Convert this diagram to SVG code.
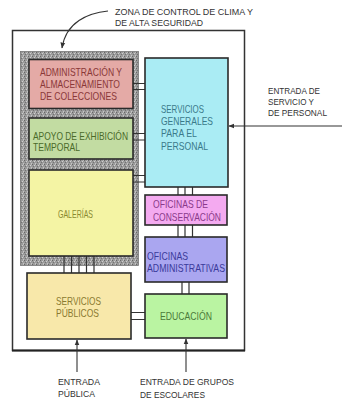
<svg xmlns="http://www.w3.org/2000/svg" width="342" height="402" viewBox="0 0 342 402">
<defs>
<pattern id="stip" width="4" height="4" patternUnits="userSpaceOnUse">
<rect width="4" height="4" fill="#9a9a9a"/>
<rect x="0" y="0" width="1" height="1" fill="#666"/>
<rect x="2" y="1" width="1" height="1" fill="#d0d0d0"/>
<rect x="1" y="2" width="1" height="1" fill="#737373"/>
<rect x="3" y="3" width="1" height="1" fill="#c4c4c4"/>
<rect x="3" y="0" width="1" height="1" fill="#b8b8b8"/>
</pattern>
<marker id="ah" viewBox="0 0 10 10" refX="9" refY="5" markerWidth="6" markerHeight="6" orient="auto" markerUnits="userSpaceOnUse">
<path d="M0,1 L10,5 L0,9 Z" fill="#333"/>
</marker>
</defs>
<style>
text{font-family:"Liberation Sans",Arial,sans-serif;font-size:11px}
.lbl{fill:#333;font-size:9.8px}
.box{stroke:#2a2a2a;stroke-width:1.6}
.cn{stroke:#333;stroke-width:1.2;fill:none}
.ar{stroke:#333;stroke-width:1.1;fill:none;marker-end:url(#ah)}
</style>
<rect width="342" height="402" fill="#fff"/>
<g id="frame">
<rect x="12.5" y="30.5" width="232" height="320" fill="#fff" stroke="#333" stroke-width="1.5"/>
<line x1="12" y1="350.5" x2="245" y2="350.5" stroke="#222" stroke-width="2"/>
</g>
<g id="climate-zone">
<rect x="20.5" y="51.5" width="118" height="214" fill="url(#stip)" stroke="#777" stroke-width="0.8"/>
</g>
<g id="connectors">
<path class="cn" d="M133,83.5H145M133,89.5H145"/>
<path class="cn" d="M133,133.5H145M133,140H145"/>
<path class="cn" d="M133,175.5H145M133,182H145"/>
<path class="cn" d="M178,187V195M185,187V195M192.5,187V195"/>
<path class="cn" d="M178,225V237M185,225V237M192.5,225V237"/>
<path class="cn" d="M182,282V294M189,282V294"/>
<path class="cn" d="M64,255V273M71.5,255V273M79,255V273M86.5,255V273M94,255V273"/>
<path class="cn" d="M131,312.5H145M131,319.5H145"/>
<line class="ar" x1="342" y1="126" x2="229" y2="126"/>
<line class="ar" x1="77" y1="372" x2="77" y2="340"/>
<line class="ar" x1="186" y1="372" x2="186" y2="339"/>
<path class="ar" d="M108,11 C88,13 66,22 62,48"/>
</g>
<g id="admin">
<rect class="box" x="29" y="59.5" width="104" height="49" fill="#e4aaa6"/>
<text x="40" y="76" fill="#8a3838" textLength="82" lengthAdjust="spacingAndGlyphs">ADMINISTRACIÓN Y</text>
<text x="40" y="88" fill="#8a3838" textLength="80" lengthAdjust="spacingAndGlyphs">ALMACENAMIENTO</text>
<text x="40" y="100" fill="#8a3838" textLength="77" lengthAdjust="spacingAndGlyphs">DE COLECCIONES</text>
</g>
<g id="apoyo">
<rect class="box" x="29" y="118" width="104" height="41" fill="#c2dca2"/>
<text x="33" y="140" fill="#4a6a2a" textLength="95" lengthAdjust="spacingAndGlyphs">APOYO DE EXHIBICIÓN</text>
<text x="33" y="151" fill="#4a6a2a" textLength="47" lengthAdjust="spacingAndGlyphs">TEMPORAL</text>
</g>
<g id="galerias">
<rect class="box" x="29" y="170" width="104" height="86" fill="#f4f4a4"/>
<text x="58" y="218" fill="#8a8a30" textLength="35" lengthAdjust="spacingAndGlyphs">GALERÍAS</text>
</g>
<g id="servicios-generales">
<rect class="box" x="145" y="58" width="83" height="129" fill="#aaecf4"/>
<text x="161" y="113" fill="#3a7a8a" textLength="43" lengthAdjust="spacingAndGlyphs">SERVICIOS</text>
<text x="161" y="125" fill="#3a7a8a" textLength="52" lengthAdjust="spacingAndGlyphs">GENERALES</text>
<text x="161" y="137" fill="#3a7a8a" textLength="36" lengthAdjust="spacingAndGlyphs">PARA EL</text>
<text x="161" y="150" fill="#3a7a8a" textLength="47" lengthAdjust="spacingAndGlyphs">PERSONAL</text>
</g>
<g id="conservacion">
<rect class="box" x="145" y="195" width="82" height="30" fill="#f4aaf0"/>
<text x="153" y="208" fill="#8a3a8a" textLength="55" lengthAdjust="spacingAndGlyphs">OFICINAS DE</text>
<text x="153" y="221" fill="#8a3a8a" textLength="68" lengthAdjust="spacingAndGlyphs">CONSERVACIÓN</text>
</g>
<g id="administrativas">
<rect class="box" x="145" y="237" width="82" height="45" fill="#aaa6f0"/>
<text x="147" y="260" fill="#3a3a9a" textLength="41" lengthAdjust="spacingAndGlyphs">OFICINAS</text>
<text x="147" y="272" fill="#3a3a9a" textLength="78" lengthAdjust="spacingAndGlyphs">ADMINISTRATIVAS</text>
</g>
<g id="servicios-publicos">
<rect class="box" x="27" y="273" width="104" height="66" fill="#f8e8aa"/>
<text x="56" y="305" fill="#8a7a30" textLength="45" lengthAdjust="spacingAndGlyphs">SERVICIOS</text>
<text x="56" y="317" fill="#8a7a30" textLength="43" lengthAdjust="spacingAndGlyphs">PÚBLICOS</text>
</g>
<g id="educacion">
<rect class="box" x="145" y="294" width="82" height="44" fill="#baf4a2"/>
<text x="160" y="320" fill="#4a7a3a" textLength="52" lengthAdjust="spacingAndGlyphs">EDUCACIÓN</text>
</g>
<g id="labels">
<text class="lbl" x="115" y="14.5" textLength="138" lengthAdjust="spacingAndGlyphs">ZONA DE CONTROL DE CLIMA Y</text>
<text class="lbl" x="115" y="25.5" textLength="88" lengthAdjust="spacingAndGlyphs">DE ALTA SEGURIDAD</text>
<text class="lbl" x="268" y="94" textLength="52" lengthAdjust="spacingAndGlyphs">ENTRADA DE</text>
<text class="lbl" x="268" y="105" textLength="46" lengthAdjust="spacingAndGlyphs">SERVICIO Y</text>
<text class="lbl" x="268" y="116" textLength="59" lengthAdjust="spacingAndGlyphs">DE PERSONAL</text>
<text class="lbl" x="58" y="385" textLength="42" lengthAdjust="spacingAndGlyphs">ENTRADA</text>
<text class="lbl" x="58" y="397" textLength="37" lengthAdjust="spacingAndGlyphs">PÚBLICA</text>
<text class="lbl" x="140" y="385" textLength="94" lengthAdjust="spacingAndGlyphs">ENTRADA DE GRUPOS</text>
<text class="lbl" x="140" y="398" textLength="65" lengthAdjust="spacingAndGlyphs">DE ESCOLARES</text>
</g>
</svg>
